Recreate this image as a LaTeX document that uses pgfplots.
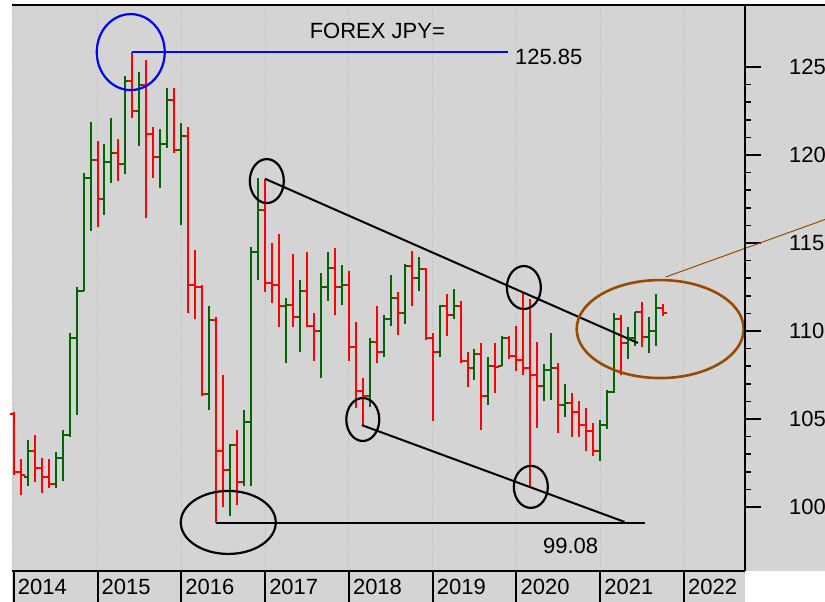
\documentclass[border=0pt]{standalone}
\usepackage{pgfplots}
\pgfplotsset{compat=1.18}
\usepackage{pgfplotstable}
\usepackage{fontspec}
\setmainfont{Liberation Sans}
\definecolor{bgc}{RGB}{212,212,212}
\definecolor{upc}{RGB}{0,100,0}
\definecolor{dnc}{RGB}{255,0,0}
\definecolor{gridc}{RGB}{180,180,180}
\definecolor{brownc}{RGB}{150,75,0}
\definecolor{bluec}{RGB}{0,0,255}

% month index (0 = Jan 2014), open, high, low, close
\pgfplotstableread{
m o h l c
2 101.7 103.8 101.2 103.2
6 101.3 103.1 101.1 102.8
7 102.8 104.4 101.5 104.1
8 104.1 109.9 104.0 109.6
9 109.6 112.5 105.2 112.3
10 112.3 119.0 112.3 118.7
11 118.7 121.9 115.7 119.7
13 117.5 120.6 116.6 119.6
14 119.6 122.1 118.4 120.1
16 119.5 124.5 118.9 124.2
18 122.5 124.7 120.5 124.0
21 119.9 121.5 118.1 120.6
22 120.6 123.8 120.4 123.1
24 120.3 121.8 116.0 121.1
28 106.4 111.4 105.5 110.6
31 102.1 103.6 99.5 103.5
33 101.4 105.5 101.2 104.8
34 104.8 114.8 101.2 114.5
35 114.5 118.7 112.9 116.9
39 111.4 111.9 108.2 111.5
41 110.8 112.9 108.8 112.3
44 110.0 113.3 107.3 112.5
45 112.5 114.5 111.7 113.6
47 112.5 113.75 111.5 112.6
51 106.3 109.6 105.7 109.35
53 108.8 110.9 108.5 110.7
54 110.7 113.2 110.3 111.9
56 111.0 113.8 110.4 113.7
58 113.0 114.2 112.3 113.5
61 108.8 111.5 108.5 111.4
63 110.9 112.4 110.7 111.4
66 107.9 109.0 107.2 108.7
68 106.3 108.5 105.8 108.0
70 108.0 109.7 108.0 109.6
76 106.9 108.1 106.0 107.8
77 107.8 109.9 106.1 107.9
79 105.8 107.0 105.1 105.9
84 103.2 104.95 102.6 104.65
85 104.65 106.65 104.45 106.55
86 106.55 111.0 106.45 110.7
88 109.3 110.2 108.4 109.6
89 109.6 111.1 109.15 111.1
91 109.65 110.8 108.75 110.0
92 110.0 112.1 109.15 111.3
}\updata

\pgfplotstableread{
m o h l c
0 105.3 105.4 101.8 102.0
1 102.0 102.7 100.7 101.8
3 103.2 104.1 101.4 102.2
4 102.2 102.8 100.8 101.7
5 101.7 102.7 101.1 101.3
12 119.7 120.8 115.9 117.5
15 120.1 120.9 118.5 119.5
17 124.2 125.85 122.1 122.5
19 124.0 125.4 116.4 121.2
20 121.2 121.6 118.7 119.9
23 123.1 123.8 120.1 120.3
25 121.1 121.6 111.0 112.6
26 112.6 114.6 110.7 112.5
27 112.5 112.6 106.3 106.4
29 110.6 110.8 99.08 103.2
30 103.2 107.5 100.0 102.1
32 103.5 104.4 100.1 101.4
36 116.9 118.65 112.2 112.7
37 112.7 115.0 111.6 112.6
38 112.6 115.5 110.2 111.4
40 111.5 114.4 110.2 110.8
42 112.3 114.5 110.2 110.3
43 110.3 111.0 108.3 110.0
46 113.6 114.7 110.9 112.5
48 112.6 113.4 108.3 109.1
49 109.1 110.5 105.6 106.6
50 106.6 107.3 104.6 106.3
52 109.35 111.4 108.2 108.8
55 111.9 112.2 109.8 111.0
57 113.7 114.55 111.4 113.0
59 113.5 113.6 109.5 109.6
60 109.6 109.9 104.9 108.8
62 111.4 112.1 109.7 110.9
64 111.4 111.7 108.2 108.3
65 108.3 108.8 106.8 107.9
67 108.7 109.3 104.4 106.3
69 108.0 109.3 106.5 107.95
71 109.6 109.7 108.4 108.6
72 108.6 110.3 107.7 108.35
73 108.35 112.2 107.5 107.9
74 107.9 111.8 101.15 107.5
75 107.5 109.35 104.5 106.9
78 107.9 108.2 104.2 105.8
80 105.9 106.5 104.0 105.4
81 105.4 106.0 104.0 104.65
82 104.65 105.6 103.2 104.3
83 104.3 104.75 102.9 103.2
87 110.7 110.9 107.5 109.3
90 111.1 111.65 109.1 109.65
93 111.3 111.55 110.85 111.0
}\dndata

\pgfdeclareplotmark{otick}{\pgfpathmoveto{\pgfpoint{-4bp}{0bp}}\pgfpathlineto{\pgfpoint{0bp}{0bp}}\pgfusepathqstroke}
\pgfdeclareplotmark{ctick}{\pgfpathmoveto{\pgfpoint{0bp}{0bp}}\pgfpathlineto{\pgfpoint{4bp}{0bp}}\pgfusepathqstroke}

\newcommand{\bigfont}{\fontsize{22bp}{26bp}\selectfont}

\begin{document}
\begin{tikzpicture}
\fill[bgc] (12bp,31bp) rectangle (825bp,596bp);
\fill[bgc] (12bp,0bp) rectangle (745bp,31bp);
\begin{axis}[
  at={(12bp,31bp)}, anchor=south west, scale only axis,
  width=733bp, height=565bp,
  xmin=-0.25, xmax=104.75, ymin=96.36, ymax=128.47,
  axis line style={draw=none},
  clip=false,
  xtick={0,12,24,36,48,60,72,84,96},
  xticklabels={2014,2015,2016,2017,2018,2019,2020,2021,2022},
  xtick style={draw=none},
  xtick pos=bottom,
  xticklabel style={anchor=north west, inner sep=0pt, xshift=4bp, yshift=8bp, font=\bigfont},
  xmajorgrids,
  grid style={gridc, line width=1bp, dash pattern=on 1bp off 2bp},
  ytick={100,105,110,115,120,125},
  minor y tick num=4,
  ytick pos=right, yticklabel pos=right,
  tick align=outside,
  major tick length=16bp, minor tick length=6bp,
  y tick style={black, line width=1.5bp},
  yticklabel style={anchor=west, inner sep=0pt, xshift=28bp, font=\bigfont},
  /pgf/number format/assume math mode=true,
]
% high-low bars
\addplot[draw=none, mark=none, forget plot,
  error bars/.cd, y dir=plus, y explicit, error mark=none,
  error bar style={draw=upc, solid, line width=2bp}]
  table[x=m, y=l, y error expr=\thisrow{h}-\thisrow{l}] {\updata};
\addplot[draw=none, mark=none, forget plot,
  error bars/.cd, y dir=plus, y explicit, error mark=none,
  error bar style={draw=dnc, solid, line width=2bp}]
  table[x=m, y=l, y error expr=\thisrow{h}-\thisrow{l}] {\dndata};
% open / close ticks
\addplot[only marks, upc, mark=otick, mark options={line width=2bp}] table[x=m, y=o] {\updata};
\addplot[only marks, upc, mark=ctick, mark options={line width=2bp}] table[x=m, y=c] {\updata};
\addplot[only marks, dnc, mark=otick, mark options={line width=2bp}] table[x=m, y=o] {\dndata};
\addplot[only marks, dnc, mark=ctick, mark options={line width=2bp}] table[x=m, y=c] {\dndata};

% year separators in the label row
\pgfplotsinvokeforeach{0,12,24,36,48,60,72,84,96}{
  \draw[black, line width=2bp] (axis cs:#1,96.36) -- ++(0bp,-31bp);
}

% annotations
\draw[bluec, line width=2bp] (axis cs:17,125.85) -- (axis cs:70.8,125.85);
\draw[bluec, line width=2.2bp] (axis cs:16.76,125.85) ellipse [x radius=34bp, y radius=38bp];

\draw[black, line width=2bp] (axis cs:29,99.08) -- (axis cs:90.4,99.08);
\draw[black, line width=2.2bp] (axis cs:30.73,99.12) ellipse [x radius=47.5bp, y radius=31.5bp];
\draw[black, line width=2.2bp] (axis cs:36.25,118.52) ellipse [x radius=17bp, y radius=22bp];
\draw[black, line width=2bp] (axis cs:36,118.65) -- (axis cs:89.4,109.32);
\draw[black, line width=2.2bp] (axis cs:73.07,112.47) ellipse [x radius=17bp, y radius=21.5bp];
\draw[black, line width=2.2bp] (axis cs:50.0,104.97) ellipse [x radius=16.5bp, y radius=21.5bp];
\draw[black, line width=2bp] (axis cs:49.86,104.65) -- (axis cs:87.5,99.15);
\draw[black, line width=2.2bp] (axis cs:74.07,101.14) ellipse [x radius=17bp, y radius=21bp];

\draw[brownc, line width=2.6bp] (axis cs:92.6,110.11) ellipse [x radius=83.5bp, y radius=49bp];
\draw[brownc, line width=1bp] (axis cs:93.4,113.07) -- (axis cs:117,116.45);

\node[font=\bigfont, inner sep=0pt] at (axis cs:52.08,127.05) {FOREX JPY=};
\node[font=\bigfont, inner sep=0pt, anchor=west] at (axis cs:71.78,125.57) {125.85};
\node[font=\bigfont, inner sep=0pt, anchor=west] at (axis cs:75.79,97.81) {99.08};
\end{axis}
% frame lines
\draw[black, line width=2bp] (12bp,31bp) -- (745bp,31bp);
\draw[black, line width=2bp] (745bp,31bp) -- (745bp,597bp);
\draw[black, line width=2bp] (12bp,597bp) -- (825bp,597bp);
\pgfresetboundingbox
\useasboundingbox (0bp,0bp) rectangle (825bp,602bp);
\end{tikzpicture}
\end{document}
